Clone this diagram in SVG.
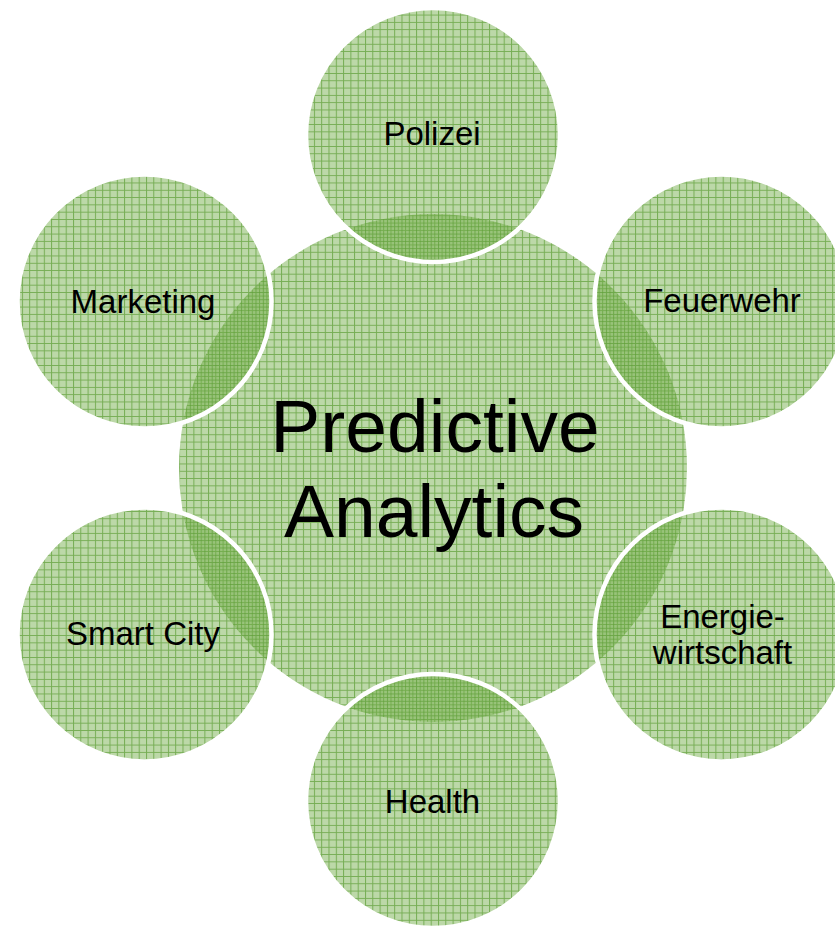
<svg xmlns="http://www.w3.org/2000/svg" width="835" height="926" viewBox="0 0 835 926">
  <style>
    .bub { stroke: #ffffff; stroke-width: 4.5; }
    .lbl { font-family: "Liberation Sans", Arial, sans-serif; font-size: 33px; fill: #000000; text-anchor: middle; }
    .big { font-family: "Liberation Sans", Arial, sans-serif; font-size: 75px; fill: #000000; text-anchor: middle; }
  </style>
  <defs>
    <pattern id="gridA" patternUnits="userSpaceOnUse" width="7.3" height="7.3">
      <rect width="7.3" height="7.3" fill="#70ad47" fill-opacity="0.47"/>
      <path d="M0 0.5H7.3M0.5 0V7.3" stroke="#5f9e38" stroke-opacity="0.75" stroke-width="1" fill="none"/>
    </pattern>
    <pattern id="gridB" patternUnits="userSpaceOnUse" x="3.6" y="3.6" width="7.3" height="7.3">
      <rect width="7.3" height="7.3" fill="#70ad47" fill-opacity="0.47"/>
      <path d="M0 0.5H7.3M0.5 0V7.3" stroke="#5f9e38" stroke-opacity="0.75" stroke-width="1" fill="none"/>
    </pattern>
  </defs>
  <rect width="835" height="926" fill="#ffffff"/>
  <g id="center">
    <circle cx="433" cy="468" r="254" fill="url(#gridB)"/>
    <text class="big" x="435" y="452">Predictive</text>
    <text class="big" x="434" y="537">Analytics</text>
  </g>
  <g id="connectors"></g>
  <g id="polizei">
    <circle class="bub" cx="433" cy="135" r="127" fill="url(#gridA)"/>
    <text class="lbl" x="432" y="145">Polizei</text>
  </g>
  <g id="feuerwehr">
    <circle class="bub" cx="721.5" cy="301.5" r="127" fill="url(#gridA)"/>
    <text class="lbl" x="722" y="312">Feuerwehr</text>
  </g>
  <g id="energiewirtschaft">
    <circle class="bub" cx="721.5" cy="634.5" r="127" fill="url(#gridA)"/>
    <text class="lbl" x="722.5" y="628">Energie-</text>
    <text class="lbl" x="722.5" y="664">wirtschaft</text>
  </g>
  <g id="health">
    <circle class="bub" cx="433" cy="801" r="127" fill="url(#gridA)"/>
    <text class="lbl" x="432.5" y="813">Health</text>
  </g>
  <g id="smartcity">
    <circle class="bub" cx="144.5" cy="634.5" r="127" fill="url(#gridA)"/>
    <text class="lbl" x="143" y="645">Smart City</text>
  </g>
  <g id="marketing">
    <circle class="bub" cx="144.5" cy="301.5" r="127" fill="url(#gridA)"/>
    <text class="lbl" x="143" y="313">Marketing</text>
  </g>
</svg>
